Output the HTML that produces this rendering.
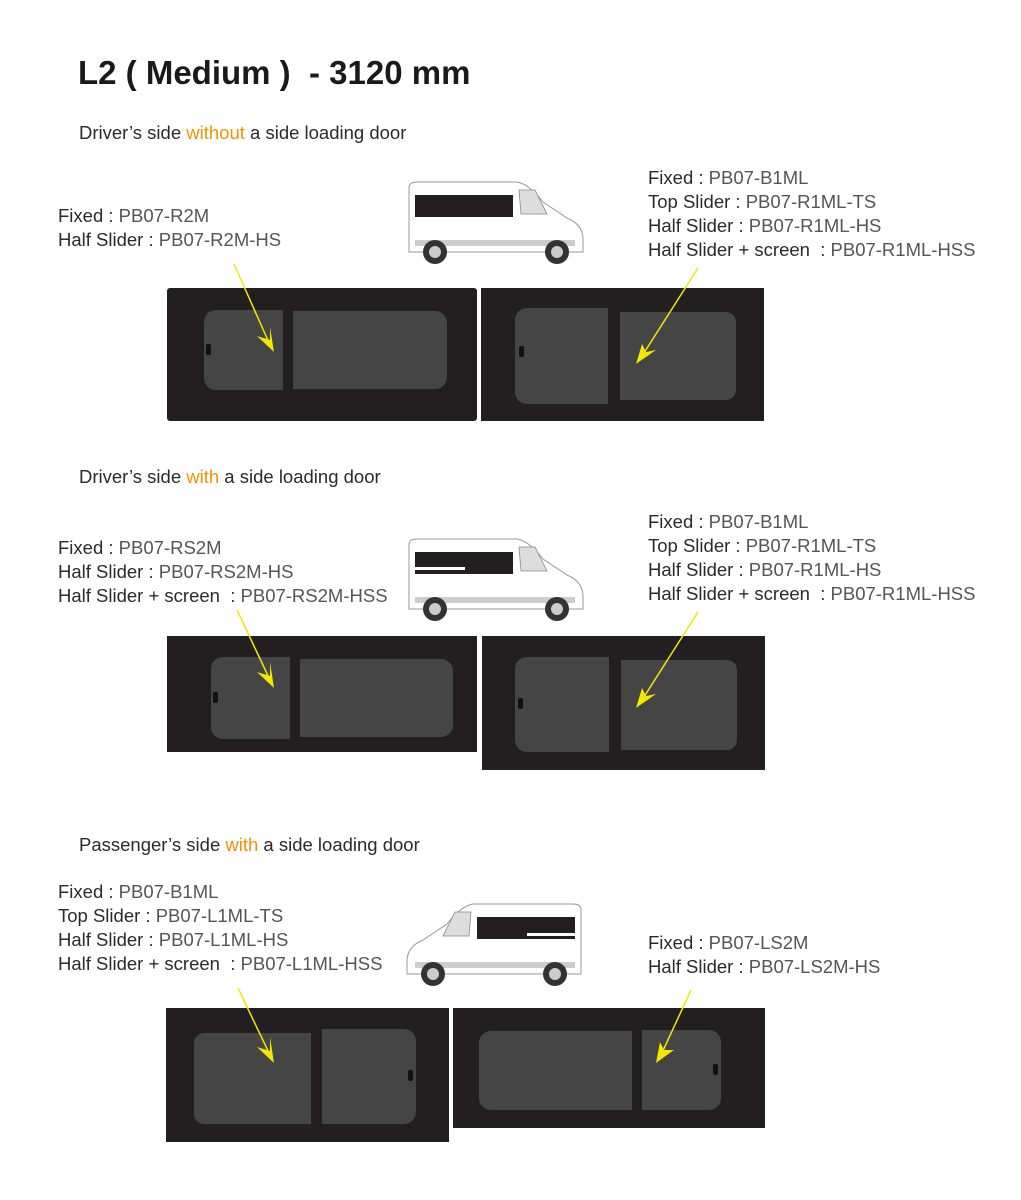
<!DOCTYPE html>
<html><head><meta charset="utf-8"><style>
body{margin:0;width:1021px;height:1200px;background:#fff;position:relative;overflow:hidden;font-family:"Liberation Sans",sans-serif;}
.t{position:absolute;white-space:nowrap;font-size:18.5px;color:#2a2a2a;line-height:24px}
.t span{color:#555}
.t span.o{color:#f39200}
.p{position:absolute;background:#231f20}
.g{position:absolute;background:#454545}
h1{position:absolute;left:78px;top:54px;margin:0;font-size:33px;font-weight:bold;color:#1a1a1a}
</style></head><body>
<h1>L2 ( Medium )&nbsp; - 3120 mm</h1>

<div class="t" style="left:79px;top:121px">Driver’s side <span class="o">without</span> a side loading door</div>
<div class="t" style="left:58px;top:204px">Fixed : <span>PB07-R2M</span><br>Half Slider : <span>PB07-R2M-HS</span></div>
<div class="t" style="left:648px;top:166px">Fixed : <span>PB07-B1ML</span><br>Top Slider : <span>PB07-R1ML-TS</span><br>Half Slider : <span>PB07-R1ML-HS</span><br>Half Slider + screen&nbsp; : <span>PB07-R1ML-HSS</span></div>

<div class="t" style="left:79px;top:465px">Driver’s side <span class="o">with</span> a side loading door</div>
<div class="t" style="left:58px;top:536px">Fixed : <span>PB07-RS2M</span><br>Half Slider : <span>PB07-RS2M-HS</span><br>Half Slider + screen&nbsp; : <span>PB07-RS2M-HSS</span></div>
<div class="t" style="left:648px;top:510px">Fixed : <span>PB07-B1ML</span><br>Top Slider : <span>PB07-R1ML-TS</span><br>Half Slider : <span>PB07-R1ML-HS</span><br>Half Slider + screen&nbsp; : <span>PB07-R1ML-HSS</span></div>

<div class="t" style="left:79px;top:833px">Passenger’s side <span class="o">with</span> a side loading door</div>
<div class="t" style="left:58px;top:880px">Fixed : <span>PB07-B1ML</span><br>Top Slider : <span>PB07-L1ML-TS</span><br>Half Slider : <span>PB07-L1ML-HS</span><br>Half Slider + screen&nbsp; : <span>PB07-L1ML-HSS</span></div>
<div class="t" style="left:648px;top:931px">Fixed : <span>PB07-LS2M</span><br>Half Slider : <span>PB07-LS2M-HS</span></div>

<div class="p" style="left:167px;top:288px;width:310px;height:133px;border-radius:3px"></div>
<div class="g" style="left:204px;top:310px;width:79px;height:80px;border-radius:12px 0 0 12px"></div>
<div class="g" style="left:293px;top:311px;width:154px;height:78px;border-radius:0 12px 12px 0"></div>
<div class="p" style="left:481px;top:288px;width:283px;height:133px"></div>
<div class="g" style="left:515px;top:308px;width:93px;height:96px;border-radius:12px 0 0 12px"></div>
<div class="g" style="left:620px;top:312px;width:116px;height:88px;border-radius:0 10px 10px 0"></div>

<div class="p" style="left:167px;top:636px;width:310px;height:116px"></div>
<div class="g" style="left:211px;top:657px;width:79px;height:82px;border-radius:12px 0 0 12px"></div>
<div class="g" style="left:300px;top:659px;width:153px;height:78px;border-radius:0 12px 12px 0"></div>
<div class="p" style="left:482px;top:636px;width:283px;height:134px"></div>
<div class="g" style="left:515px;top:657px;width:94px;height:95px;border-radius:12px 0 0 12px"></div>
<div class="g" style="left:621px;top:660px;width:116px;height:90px;border-radius:0 10px 10px 0"></div>

<div class="p" style="left:166px;top:1008px;width:283px;height:134px"></div>
<div class="g" style="left:194px;top:1033px;width:117px;height:91px;border-radius:10px 0 0 10px"></div>
<div class="g" style="left:322px;top:1029px;width:94px;height:95px;border-radius:0 12px 12px 0"></div>
<div class="p" style="left:453px;top:1008px;width:312px;height:120px"></div>
<div class="g" style="left:479px;top:1031px;width:153px;height:79px;border-radius:12px 0 0 12px"></div>
<div class="g" style="left:642px;top:1030px;width:79px;height:80px;border-radius:0 12px 12px 0"></div>

<svg width="1021" height="1200" style="position:absolute;left:0;top:0">
<defs>
<g id="van">
<path d="M4,8 Q4,2 12,2 L112,2 Q124,4 138,22 L162,38 Q177,44 178,58 L178,72 L4,72 Z" fill="#fff" stroke="#999" stroke-width="1"/>
<path d="M114,10 L130,10 L142,34 L116,34 Z" fill="#ddd" stroke="#888" stroke-width="0.8"/>
<rect x="10" y="60" width="160" height="6" fill="#ccc"/>
<circle cx="30" cy="72" r="12" fill="#333"/><circle cx="30" cy="72" r="6" fill="#ccc"/>
<circle cx="152" cy="72" r="12" fill="#333"/><circle cx="152" cy="72" r="6" fill="#ccc"/>
</g>
</defs>
<g transform="translate(405,180)"><use href="#van"/><rect x="10" y="15" width="98" height="22" fill="#231f20"/></g>
<g transform="translate(405,537)"><use href="#van"/><rect x="10" y="15" width="98" height="22" fill="#231f20"/><rect x="10" y="30" width="50" height="3" fill="#fff"/></g>
<g transform="translate(585,902) scale(-1,1)"><use href="#van"/><rect x="10" y="15" width="98" height="22" fill="#231f20"/><rect x="10" y="31" width="48" height="3" fill="#fff"/></g>

<g fill="#111">
<rect x="206" y="344" width="5" height="11" rx="2"/>
<rect x="519" y="346" width="5" height="11" rx="2"/>
<rect x="213" y="692" width="5" height="11" rx="2"/>
<rect x="518" y="698" width="5" height="11" rx="2"/>
<rect x="408" y="1070" width="5" height="11" rx="2"/>
<rect x="713" y="1064" width="5" height="11" rx="2"/>
</g>
<g stroke="#f5e600" stroke-width="1.5" fill="#f5e600">
<line x1="234" y1="264" x2="270" y2="345"/><polygon points="274,352 257,336 270,340 270,327" stroke="none"/>
<line x1="698" y1="268" x2="642" y2="356"/><polygon points="636,364 642,344 646,352 656,350" stroke="none"/>
<line x1="237" y1="610" x2="270" y2="680"/><polygon points="274,688 257,672 270,676 270,662" stroke="none"/>
<line x1="698" y1="612" x2="642" y2="700"/><polygon points="636,708 642,688 646,696 656,694" stroke="none"/>
<line x1="238" y1="988" x2="270" y2="1055"/><polygon points="274,1063 257,1047 270,1051 270,1037" stroke="none"/>
<line x1="691" y1="990" x2="661" y2="1055"/><polygon points="656,1063 660,1042 664,1050 674,1050" stroke="none"/>
</g>
</svg>
</body></html>
